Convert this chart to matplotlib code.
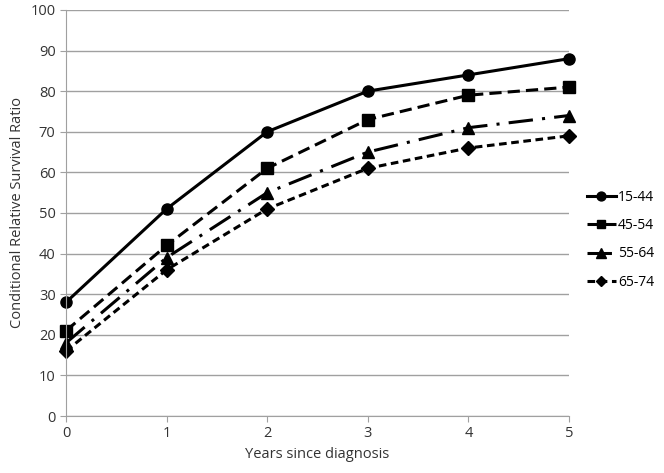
import matplotlib

matplotlib.use("Agg")

import matplotlib.pyplot as plt

plt.rcParams["font.family"] = ["Open Sans", "DejaVu Sans"]

years = [0, 1, 2, 3, 4, 5]
labels = ["15-44", "45-54", "55-64", "65-74"]
s_15_44 = [28, 51, 70, 80, 84, 88]
s_45_54 = [21, 42, 61, 73, 79, 81]
s_55_64 = [18, 39, 55, 65, 71, 74]
s_65_74 = [16, 36, 51, 61, 66, 69]

series = [s_15_44, s_45_54, s_55_64, s_65_74]
markers = ["o", "s", "^", "D"]
msizes = [8, 8, 9, 7]
dashes = [None, (4, 2), (8, 3, 1, 3), (2.5, 1.5)]

fig = plt.figure(figsize=(6.64, 4.73), dpi=100)
ax = fig.add_axes([0.0994, 0.1205, 0.7576, 0.8585])

for vals, lab, m, ms, d in zip(series, labels, markers, msizes, dashes):
    line, = ax.plot(years, vals, color="black", lw=2.2, marker=m, ms=ms, label=lab)
    if d is not None:
        line.set_dashes(d)
    line.set_clip_on(False)

ax.set_xlim(0, 5)
ax.set_ylim(0, 100)
ax.set_xticks(years)
ax.set_yticks(range(0, 101, 10))
ax.yaxis.grid(True, color="#a0a0a0", lw=1)
ax.set_axisbelow(True)
for side in ["top", "right"]:
    ax.spines[side].set_visible(False)
for side in ["left", "bottom"]:
    ax.spines[side].set_color("#a0a0a0")
ax.tick_params(colors="#a0a0a0", labelcolor="#333333", labelsize=10.5, length=4)
ax.set_xlabel("Years since diagnosis", fontsize=10.5, color="#333333")
ax.set_ylabel("Conditional Relative Survival Ratio", fontsize=10.5, color="#333333")

ax.legend(loc="center left", bbox_to_anchor=(1.035, 0.434), frameon=False,
          borderpad=0, borderaxespad=0, fontsize=10, markerscale=0.8,
          handlelength=2.1, handletextpad=0.15, labelspacing=0.95)

fig.savefig("out.png", dpi=100)
plt.close(fig)
